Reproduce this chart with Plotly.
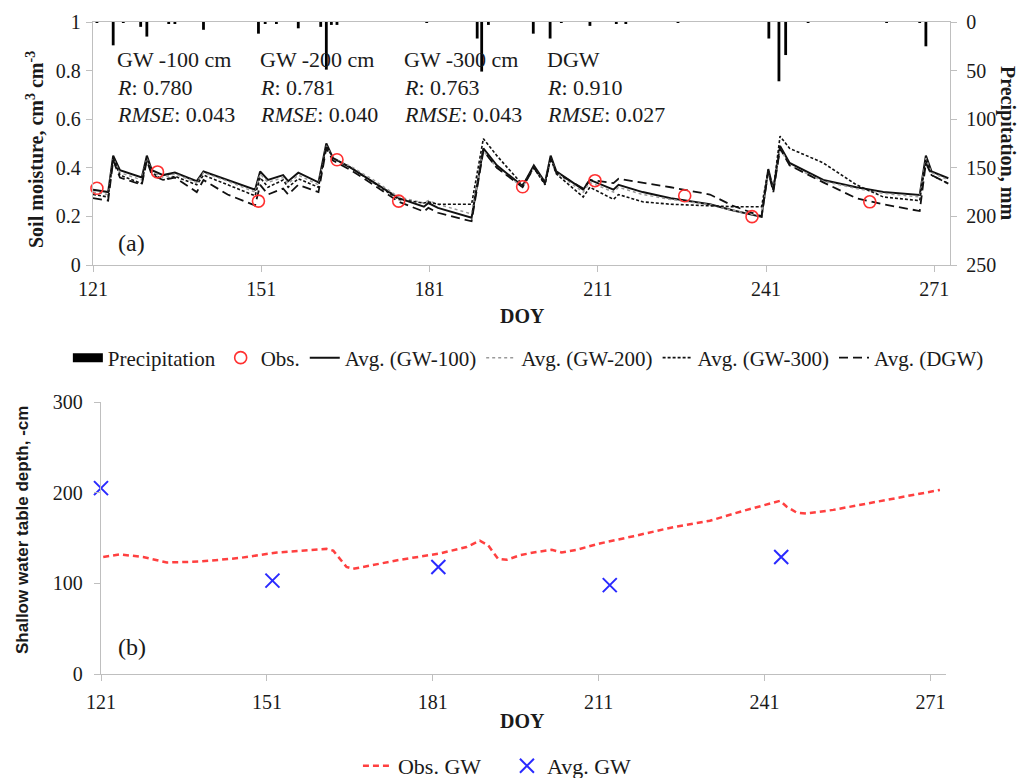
import plotly.graph_objects as go

W, H = 1020, 778

# ---------------- Data (a) ----------------
doy = [121, 123.7, 124.6, 125.8, 129.7, 130.6, 131.5, 133.5, 135.6, 139.5,
       140.7, 145, 149.9, 150.8, 152.2, 154.9, 155.8, 157.6, 161.2, 162.6,
       163.8, 167, 171, 175.5, 180, 180.8, 182.5, 188.5, 190.6, 193,
       197.6, 199.6, 201.6, 202.6, 203.6, 208.4, 209.6, 213.8, 214.7, 219,
       224, 231, 235, 240.2, 241.4, 242.3, 243.5, 245.2, 251.2, 257.1,
       261.9, 268.4, 269.5, 270.5, 273.5]

gw100 = [0.31, 0.30, 0.45, 0.39, 0.36, 0.45, 0.39, 0.37, 0.38, 0.345,
         0.385, 0.35, 0.31, 0.385, 0.35, 0.37, 0.345, 0.38, 0.34, 0.50,
         0.44, 0.40, 0.34, 0.275, 0.24, 0.255, 0.235, 0.195, 0.48, 0.41,
         0.325, 0.41, 0.34, 0.45, 0.385, 0.31, 0.35, 0.31, 0.33, 0.30,
         0.275, 0.25, 0.225, 0.198, 0.395, 0.31, 0.49, 0.42, 0.35, 0.32,
         0.30, 0.288, 0.45, 0.385, 0.357]

gw200 = [0.30, 0.29, 0.44, 0.38, 0.35, 0.44, 0.385, 0.36, 0.375, 0.34,
         0.38, 0.345, 0.30, 0.375, 0.34, 0.36, 0.335, 0.37, 0.33, 0.49,
         0.44, 0.405, 0.35, 0.28, 0.255, 0.265, 0.25, 0.21, 0.47, 0.40,
         0.32, 0.40, 0.335, 0.44, 0.38, 0.30, 0.34, 0.30, 0.32, 0.29,
         0.27, 0.248, 0.225, 0.20, 0.39, 0.31, 0.48, 0.41, 0.345, 0.315,
         0.295, 0.28, 0.44, 0.38, 0.35]

gw300 = [0.29, 0.28, 0.44, 0.37, 0.335, 0.44, 0.38, 0.35, 0.365, 0.33,
         0.37, 0.33, 0.285, 0.36, 0.32, 0.35, 0.32, 0.355, 0.32, 0.49,
         0.44, 0.40, 0.34, 0.27, 0.255, 0.26, 0.25, 0.25, 0.52, 0.45,
         0.33, 0.40, 0.33, 0.44, 0.375, 0.28, 0.32, 0.27, 0.29, 0.26,
         0.25, 0.245, 0.24, 0.24, 0.39, 0.31, 0.53, 0.48, 0.42, 0.33,
         0.28, 0.265, 0.43, 0.37, 0.335]

dgw = [0.275, 0.265, 0.43, 0.36, 0.33, 0.43, 0.37, 0.35, 0.36, 0.30,
       0.35, 0.29, 0.245, 0.33, 0.29, 0.315, 0.29, 0.33, 0.30, 0.48,
       0.43, 0.39, 0.33, 0.26, 0.22, 0.235, 0.215, 0.18, 0.47, 0.40,
       0.32, 0.40, 0.335, 0.44, 0.38, 0.315, 0.35, 0.337, 0.355, 0.34,
       0.32, 0.29, 0.245, 0.20, 0.385, 0.30, 0.48, 0.41, 0.34, 0.275,
       0.25, 0.222, 0.42, 0.37, 0.335]

obs_doy = [121.7, 132.5, 150.5, 164.5, 175.5, 197.6, 210.5, 226.5, 238.5, 259.5]
obs_sm = [0.316, 0.383, 0.263, 0.433, 0.263, 0.322, 0.347, 0.285, 0.199, 0.26]

precip_doy = [121.7, 124.6, 126.4, 129.5, 130.6, 134.5, 135.6, 140.7, 150.5, 151.7,
              153.7, 157.6, 161.6, 162.6, 163.5, 164.5, 180.5, 189.5, 190.3, 191.5,
              199.5, 202.5, 204.5, 209.6, 214.3, 216, 225.3, 241.5, 243.3, 244.5,
              248.5, 262.5, 268.4, 269.5]
precip_mm = [1, 24, 1, 5, 15, 2, 2, 8, 12, 2,
             2, 6.5, 5, 49, 3, 3, 1, 17, 51, 3,
             12, 17, 1, 4, 2, 2, 1, 17, 61, 34,
             1, 1, 1, 25]

stats_titles = ["GW -100 cm", "GW -200 cm", "GW -300 cm", "DGW"]
stats_r = ["0.780", "0.781", "0.763", "0.910"]
stats_rmse = ["0.043", "0.040", "0.043", "0.027"]

# ---------------- Data (b) ----------------
gw_doy = [121.4, 124.4, 128.6, 132.9, 138.9, 146.1, 152.8, 161.8, 163, 165.4,
          166.6, 175.1, 182.3, 187.1, 189.5, 191, 192.8, 194.4, 196.8, 199.2,
          202.5, 204.3, 207, 211.2, 217.3, 224.5, 231.1, 236.6, 243.8, 245,
          246.8, 248.6, 253.4, 259.5, 265.5, 272.7]
gw_depth = [129, 132, 129, 123, 124, 128, 134, 138, 136, 118,
            116, 126, 133, 140, 147, 142, 127, 126, 131, 134,
            137, 134, 137, 144, 152, 162, 169, 179, 191, 184.5,
            178, 177, 181, 188, 195, 203]
avg_gw_doy = [121, 152, 182, 213, 244]
avg_gw_depth = [205, 103, 118, 98, 129]

xticks = [121, 151, 181, 211, 241, 271]

SERIF = "Liberation Serif"
SANS = "Liberation Sans"
TXT = "#1a1a1a"
AX = "#bfbfbf"


def px(x):
    return x / W


def py(y):
    return 1 - y / H


fig = go.Figure()

# Precipitation bars (hanging from top)
fig.add_trace(go.Bar(x=precip_doy, y=precip_mm, xaxis="x", yaxis="y2",
                     width=0.5, marker=dict(color="black", line=dict(width=0)),
                     name="Precipitation", showlegend=False))
# legend entry for precipitation: wide black bar
fig.add_trace(go.Scatter(x=[None], y=[None], mode="lines", name="Precipitation",
                         line=dict(color="black", width=9),
                         xaxis="x", yaxis="y", legend="legend", legendrank=1))

fig.add_trace(go.Scatter(x=doy, y=gw100, mode="lines", name="Avg. (GW-100)",
                         line=dict(color="#111111", width=2),
                         xaxis="x", yaxis="y", legend="legend", legendrank=3))
fig.add_trace(go.Scatter(x=doy, y=gw200, mode="lines", name="Avg. (GW-200)",
                         line=dict(color="#9a9a9a", width=1.5, dash="dot"),
                         xaxis="x", yaxis="y", legend="legend", legendrank=4))
fig.add_trace(go.Scatter(x=doy, y=gw300, mode="lines", name="Avg. (GW-300)",
                         line=dict(color="#111111", width=1.6, dash="3px,2px"),
                         xaxis="x", yaxis="y", legend="legend", legendrank=5))
fig.add_trace(go.Scatter(x=doy, y=dgw, mode="lines", name="Avg. (DGW)",
                         line=dict(color="#111111", width=1.8, dash="9px,5px"),
                         xaxis="x", yaxis="y", legend="legend", legendrank=6))
fig.add_trace(go.Scatter(x=obs_doy, y=obs_sm, mode="markers", name="Obs.",
                         marker=dict(symbol="circle-open", size=12,
                                     color="#ff3030", line=dict(width=1.6)),
                         cliponaxis=False,
                         xaxis="x", yaxis="y", legend="legend", legendrank=2))

# Panel (b)
fig.add_trace(go.Scatter(x=gw_doy, y=gw_depth, mode="lines", name="Obs. GW",
                         line=dict(color="#ff4040", width=2.5, dash="6px,4px"),
                         xaxis="x2", yaxis="y3", legend="legend2"))
fig.add_trace(go.Scatter(x=avg_gw_doy, y=avg_gw_depth, mode="markers", name="Avg. GW",
                         marker=dict(symbol="x-thin-open", size=14, color="#2a2aff",
                                     line=dict(width=2, color="#2a2aff")),
                         cliponaxis=False,
                         xaxis="x2", yaxis="y3", legend="legend2"))

tickfont = dict(family=SERIF, size=20, color=TXT)
common_ax = dict(showline=True, linecolor=AX, linewidth=1.3, ticks="outside",
                 ticklen=6, tickcolor=AX, tickwidth=1.3, showgrid=False,
                 zeroline=False, tickfont=tickfont, automargin=False)

fig.update_layout(
    width=W, height=H, margin=dict(l=0, r=0, t=0, b=0, autoexpand=False),
    paper_bgcolor="white", plot_bgcolor="white",
    barmode="overlay",
    font=dict(family=SERIF, color=TXT),
    xaxis=dict(domain=[px(93), px(950)], anchor="y", range=[121, 273.8],
               tickvals=xticks, mirror=True, ticklabelstandoff=0, **common_ax),
    yaxis=dict(domain=[py(265), py(22)], anchor="x", range=[0, 1], dtick=0.2,
               ticklabelstandoff=1, **common_ax),
    yaxis2=dict(overlaying="y", side="right", anchor="x", range=[250, 0], dtick=50,
                ticklabelstandoff=5, **common_ax),
    xaxis2=dict(domain=[px(101), px(946)], anchor="y3", range=[121, 273.8],
                tickvals=xticks, ticklabelstandoff=4, **common_ax),
    yaxis3=dict(domain=[py(674), py(402)], anchor="x2", range=[0, 300], dtick=100,
                ticklabelstandoff=7, **common_ax),
    legend=dict(orientation="h", x=0.518, xanchor="center", y=py(358), yanchor="middle",
                font=dict(family=SERIF, size=21, color=TXT), bgcolor="rgba(0,0,0,0)",
                itemwidth=30, traceorder="normal"),
    legend2=dict(orientation="h", x=0.497, xanchor="center", y=py(766), yanchor="middle",
                 font=dict(family=SERIF, size=22, color=TXT), bgcolor="rgba(0,0,0,0)",
                 itemwidth=30, entrywidth=104),
    showlegend=True,
)

ann = []
col_x = [115, 258, 402, 545]
for i in range(4):
    ann.append(dict(x=px(col_x[i]), y=py(59), text=stats_titles[i]))
    ann.append(dict(x=px(col_x[i]), y=py(87), text="<i>R</i>: " + stats_r[i]))
    ann.append(dict(x=px(col_x[i]), y=py(114), text="<i>RMSE</i>: " + stats_rmse[i]))
for a in ann:
    a.update(xref="paper", yref="paper", xanchor="left", yanchor="middle",
             showarrow=False, font=dict(family=SERIF, size=22, color=TXT))
    fig.add_annotation(**a)

fig.add_annotation(x=px(116), y=py(243), xref="paper", yref="paper", xanchor="left",
                   yanchor="middle", showarrow=False, text="(a)",
                   font=dict(family=SERIF, size=24, color=TXT))
fig.add_annotation(x=px(116), y=py(647), xref="paper", yref="paper", xanchor="left",
                   yanchor="middle", showarrow=False, text="(b)",
                   font=dict(family=SERIF, size=24, color=TXT))

# Axis titles
fig.add_annotation(x=px(35), y=py(150), xref="paper", yref="paper", showarrow=False,
                   textangle=-90, xanchor="center", yanchor="middle",
                   text="<b>Soil moisture, cm<sup>3</sup> cm<sup>-3</sup></b>",
                   font=dict(family=SERIF, size=20, color=TXT))
fig.add_annotation(x=px(1008), y=py(143), xref="paper", yref="paper", showarrow=False,
                   textangle=90, xanchor="center", yanchor="middle",
                   text="<b>Precipitation, mm</b>",
                   font=dict(family=SERIF, size=20, color=TXT))
fig.add_annotation(x=px(522), y=py(316), xref="paper", yref="paper", showarrow=False,
                   xanchor="center", yanchor="middle", text="<b>DOY</b>",
                   font=dict(family=SERIF, size=20, color=TXT))
fig.add_annotation(x=px(522), y=py(721), xref="paper", yref="paper", showarrow=False,
                   xanchor="center", yanchor="middle", text="<b>DOY</b>",
                   font=dict(family=SERIF, size=20, color=TXT))
fig.add_annotation(x=px(22), y=py(530), xref="paper", yref="paper", showarrow=False,
                   textangle=-90, xanchor="center", yanchor="middle",
                   text="<b>Shallow water table depth, -cm</b>",
                   font=dict(family=SANS, size=17, color=TXT))

fig.write_html("out.html")
